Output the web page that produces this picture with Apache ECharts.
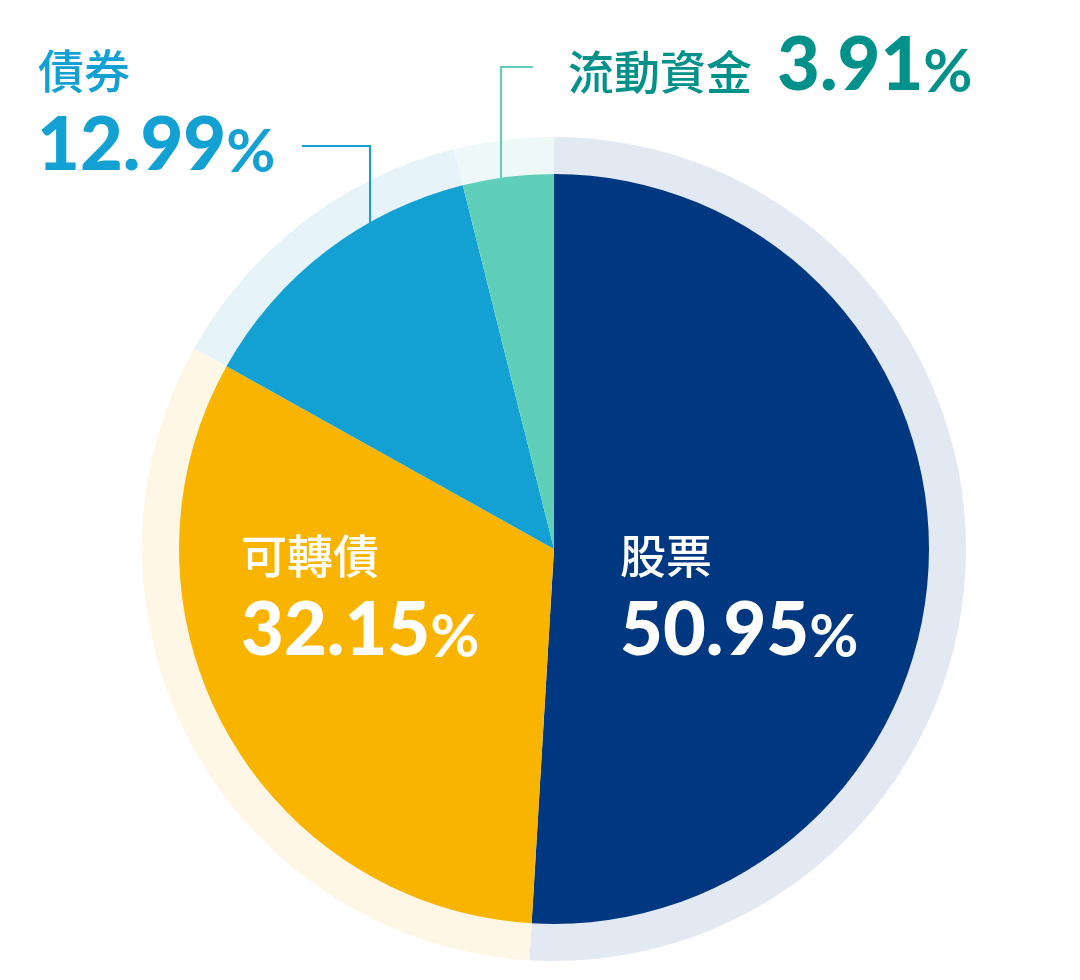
<!DOCTYPE html>
<html>
<head>
<meta charset="utf-8">
<script src="https://cdn.jsdelivr.net/npm/echarts@6/dist/echarts.min.js"></script>
<style>html,body{margin:0;padding:0;background:#fff;}#c{width:1080px;height:980px;}</style>
</head>
<body>
<div id="c"></div>
<script>
var categories = ['股票', '可轉債', '債券', '流動資金'];
var values = [50.95, 32.15, 12.99, 3.91];
var colors = ['#003781', '#F9B400', '#13A0D3', '#5FCFB9'];
var lightColors = ['#E3E9F2', '#FEF7E6', '#E6F3F9', '#EEF8F6'];

var chart = echarts.init(document.getElementById('c'), null, {renderer: 'canvas'});
var cjk = '"Noto Sans CJK TC", "Noto Sans CJK SC", sans-serif';
var num = 'Lato, "Open Sans", sans-serif';

function pctText(v, color, x, y) {
  return {
    type: 'text', x: x, y: y, z: 100,
    style: {
      text: '{n|' + v.toFixed(2) + '}{p|%}',
      verticalAlign: 'top', align: 'left',
      rich: {
        n: {fontFamily: num, fontWeight: 900, fontSize: 74, lineHeight: 80, verticalAlign: 'bottom', fill: color},
        p: {fontFamily: num, fontWeight: 700, fontSize: 60, lineHeight: 69, verticalAlign: 'bottom', fill: color}
      }
    }
  };
}
function nameText(t, color, x, y) {
  return {
    type: 'text', x: x, y: y, z: 100,
    style: {text: t, fill: color, fontFamily: cjk, fontWeight: 500, fontSize: 46, lineHeight: 46, verticalAlign: 'top', align: 'left'}
  };
}

var data = categories.map(function (c, i) { return {name: c, value: values[i], itemStyle: {color: colors[i]}}; });
var ringData = categories.map(function (c, i) { return {name: c, value: values[i], itemStyle: {color: lightColors[i]}}; });

chart.setOption({
  animation: false,
  series: [
    {
      type: 'pie', silent: true, center: [554, 549], radius: [370, 412],
      startAngle: 90, clockwise: true, label: {show: false}, labelLine: {show: false},
      data: ringData, z: 1
    },
    {
      type: 'pie', silent: true, center: [554, 549], radius: [0, 375],
      startAngle: 90, clockwise: true, label: {show: false}, labelLine: {show: false},
      data: data, z: 2
    }
  ],
  graphic: [
    {type: 'polyline', z: 50, shape: {points: [[302, 146], [370, 146], [370, 224]]}, style: {stroke: colors[2], lineWidth: 2, fill: null}},
    {type: 'polyline', z: 50, shape: {points: [[533, 67], [501, 67], [501, 181]]}, style: {stroke: colors[3], lineWidth: 2, fill: null}},
    nameText(categories[2], colors[2], 38, 48),
    pctText(values[2], colors[2], 37, 103),
    nameText(categories[3], '#00918B', 568, 49),
    pctText(values[3], '#00918B', 777, 23),
    nameText(categories[1], '#ffffff', 241, 533),
    pctText(values[1], '#ffffff', 241, 588),
    nameText(categories[0], '#ffffff', 620, 533),
    pctText(values[0], '#ffffff', 620, 588)
  ]
});
</script>
</body>
</html>
